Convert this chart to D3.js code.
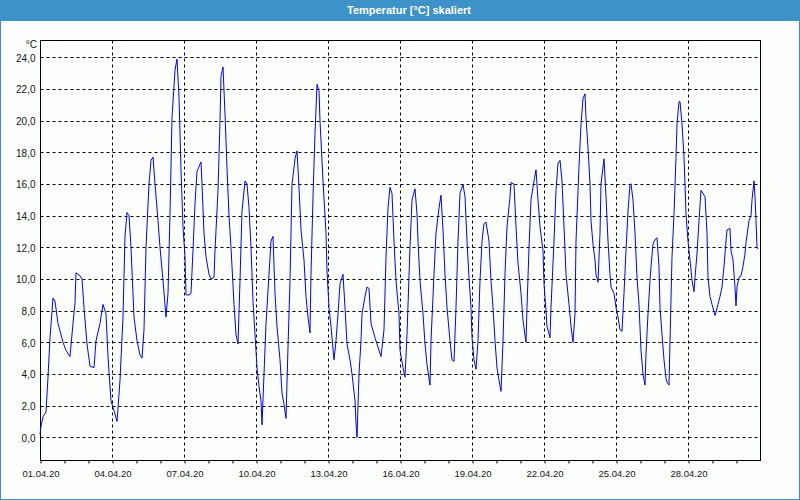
<!DOCTYPE html>
<html>
<head>
<meta charset="utf-8">
<script src="https://cdn.jsdelivr.net/npm/d3@7"></script>
<style>
  body { margin: 0; background: #fcfefc; }
  svg { display: block; }
  .tick text { font-family: "Liberation Sans", Arial, sans-serif; font-size: 10px; fill: #141414; }
  .x-axis .tick text { font-size: 9.5px; }
</style>
</head>
<body>
<svg id="chart" width="800" height="500"></svg>
<script>
/* global d3 */
(function () {
  'use strict';

  // hours since 01.04.20 00:00 and the temperature read at that hour
  var hours = [0, 1, 3, 6, 8, 10, 13, 15, 18, 23, 26, 30, 33, 35, 36, 40, 42, 44, 47, 50, 54, 56, 60, 63, 66, 68, 71, 74, 77, 80,
    83, 85, 87, 89, 91, 94, 97, 100, 102, 104, 106, 109, 111, 113, 115, 118, 120, 123, 126, 128, 130, 132, 135, 137, 139, 141, 143, 145, 146, 149,
    151, 153, 155, 157, 161, 162, 164, 166, 169, 171, 174, 175, 178, 180, 181, 183, 185, 187, 189, 191, 194, 196, 198, 200, 202, 205, 207, 209, 211, 213,
    215, 217, 219, 221, 222, 224, 226, 229, 231, 233, 235, 237, 240, 242, 244, 246, 248, 250, 252, 255, 257, 259, 261, 264, 266, 268, 270, 271, 273, 275,
    277, 279, 280, 283, 286, 287, 289, 291, 294, 296, 298, 300, 303, 305, 307, 310, 312, 315, 316, 317, 319, 321, 322, 325, 327, 329, 331, 335, 338, 341,
    344, 346, 348, 350, 352, 354, 356, 359, 360, 363, 365, 367, 370, 372, 375, 377, 378, 380, 383, 385, 387, 390, 391, 394, 396, 399, 401, 403, 405, 407,
    410, 412, 414, 416, 418, 420, 423, 425, 427, 429, 431, 432, 434, 436, 438, 440, 442, 444, 446, 449, 451, 453, 455, 457, 459, 461, 463, 465, 467, 470,
    471, 474, 476, 478, 481, 483, 486, 487, 489, 491, 494, 496, 498, 500, 503, 504, 506, 507, 510, 511, 514, 516, 518, 520, 522, 524, 526, 529, 531, 533,
    535, 536, 539, 541, 543, 545, 546, 548, 550, 551, 553, 555, 556, 558, 560, 561, 564, 566, 568, 570, 571, 574, 576, 578, 580, 582, 584, 586, 588, 590,
    591, 593, 595, 597, 599, 601, 603, 605, 606, 608, 610, 611, 613, 615, 617, 619, 620, 622, 624, 626, 627, 629, 630, 632, 634, 636, 637, 639, 640, 642,
    644, 645, 646, 648, 650, 652, 654, 655, 657, 659, 661, 663, 665, 667, 668, 670, 672, 675, 676, 678, 680, 682, 684, 686, 687, 690, 691, 693, 695, 696,
    697, 699, 701, 703, 705, 706, 709, 711, 712, 714, 715, 716, 717, 718];

  var temps = [0.2, 0.7, 1.3, 1.6, 3.8, 6.3, 8.8, 8.6, 7.2, 6.0, 5.5, 5.1, 7.2, 8.5, 10.4, 10.2, 10.0, 8.2, 5.9, 4.5, 4.4, 6.1, 7.2, 8.4, 7.8, 5.1, 2.3, 1.7, 1.0, 3.6,
    7.6, 12.7, 14.2, 14.0, 12.0, 7.6, 6.1, 5.2, 5.0, 6.8, 12.0, 16.0, 17.5, 17.7, 16.0, 13.7, 12.0, 9.9, 7.6, 9.1, 14.1, 20.2, 23.2, 23.9, 21.5, 16.9, 13.3, 11.4, 9.0, 9.0,
    9.1, 11.8, 14.8, 16.8, 17.4, 16.0, 12.9, 11.4, 10.3, 10.0, 10.1, 11.8, 15.6, 20.0, 22.8, 23.4, 20.4, 17.0, 14.0, 12.0, 8.4, 6.5, 5.9, 9.9, 14.3, 16.2, 16.0, 14.5, 12.0, 8.6,
    6.5, 4.4, 3.2, 2.3, 0.8, 4.0, 7.2, 10.3, 12.4, 12.7, 9.1, 7.0, 4.9, 2.8, 2.1, 1.2, 5.7, 9.9, 16.0, 17.6, 18.1, 15.8, 13.1, 11.2, 8.9, 7.6, 6.6, 10.3, 15.2, 19.2,
    22.3, 21.9, 20.0, 16.2, 12.9, 10.5, 8.2, 7.0, 4.9, 6.1, 7.8, 9.7, 10.3, 8.2, 5.9, 4.9, 4.0, 2.3, 0.9, 0.0, 4.0, 6.1, 7.8, 8.9, 9.5, 9.4, 7.2, 6.3, 5.7, 5.1,
    6.8, 11.4, 14.5, 15.8, 15.4, 12.4, 9.9, 7.8, 5.5, 4.4, 3.8, 6.5, 12.0, 15.0, 15.7, 14.1, 12.4, 9.9, 7.8, 5.9, 4.6, 3.3, 6.1, 10.3, 12.9, 14.5, 15.3, 13.1, 10.3, 8.2,
    6.1, 4.9, 4.8, 8.2, 12.4, 15.4, 16.0, 15.2, 12.4, 10.1, 8.2, 6.3, 4.9, 4.3, 6.1, 9.9, 12.4, 13.5, 13.6, 12.4, 9.9, 8.2, 6.1, 4.4, 3.6, 2.9, 6.1, 10.3, 13.3, 15.2,
    16.1, 16.0, 13.3, 11.0, 9.1, 7.4, 6.0, 8.2, 12.0, 15.0, 16.2, 16.9, 15.0, 13.3, 11.8, 9.7, 8.0, 7.0, 6.3, 8.2, 12.4, 15.6, 17.3, 17.5, 16.2, 13.3, 10.3, 8.4, 7.0, 6.0,
    7.8, 12.4, 17.1, 19.8, 21.4, 21.7, 20.2, 18.3, 16.0, 13.7, 12.2, 11.2, 10.3, 9.8, 12.9, 16.0, 17.6, 15.2, 12.4, 10.3, 9.5, 9.1, 8.2, 7.6, 6.8, 6.7, 9.1, 11.8, 14.3, 16.0,
    16.0, 15.0, 12.9, 10.1, 8.4, 5.5, 4.0, 3.3, 5.3, 7.8, 9.9, 10.8, 12.2, 12.5, 12.6, 10.8, 8.2, 6.5, 4.9, 3.7, 3.5, 3.3, 6.1, 11.4, 14.1, 17.7, 19.8, 21.2, 21.2, 19.8,
    17.7, 16.0, 14.1, 12.4, 11.2, 9.9, 9.2, 10.1, 11.6, 13.7, 15.6, 15.4, 15.2, 12.9, 10.1, 8.9, 8.4, 7.7, 7.9, 8.4, 8.9, 9.5, 10.8, 12.4, 13.1, 13.2, 11.8, 11.2, 9.5, 8.3,
    9.5, 10.1, 10.2, 10.8, 11.6, 12.3, 13.7, 14.0, 15.0, 16.2, 15.2, 13.7, 12.0, 11.9];

  var yTicks = [0, 2, 4, 6, 8, 10, 12, 14, 16, 18, 20, 22, 24];
  var labelDays = [1, 4, 7, 10, 13, 16, 19, 22, 25, 28];
  var title = 'Temperatur [°C] skaliert';
  var unit = '°C';

  var start = new Date(2020, 3, 1);
  var end = new Date(2020, 4, 1);
  var data = hours.map(function (h, i) {
    return { t: d3.timeHour.offset(start, h), v: temps[i] };
  });

  var margin = { top: 40, right: 40, bottom: 40, left: 40 };
  var W = 800, H = 500;
  var svg = d3.select('#chart');

  // window frame + title bar
  svg.append('rect').attr('x', 0.5).attr('y', 0.5).attr('width', W - 1).attr('height', H - 1)
    .attr('fill', '#fcfefc').attr('stroke', '#3f8fc4');
  svg.append('rect').attr('x', 0).attr('y', 0).attr('width', W).attr('height', 21).attr('fill', '#3d92c7');
  svg.append('text').attr('x', 409).attr('y', 14).attr('text-anchor', 'middle')
    .style('font-family', '"Liberation Sans", Arial, sans-serif').style('font-size', '11px')
    .style('font-weight', 'bold').attr('fill', '#ffffff').text(title);

  var x = d3.scaleTime().domain([start, end]).range([margin.left, W - margin.right]);
  var y = d3.scaleLinear().domain([-1.43, 25.1]).range([H - margin.bottom, margin.top]);

  var g = svg.append('g').attr('transform', 'translate(0.5,0.5)');

  // grid
  g.selectAll('.hgrid').data(yTicks).enter().append('line')
    .attr('class', 'hgrid')
    .attr('x1', margin.left).attr('x2', W - margin.right)
    .attr('y1', function (d) { return Math.round(y(d)); })
    .attr('y2', function (d) { return Math.round(y(d)); })
    .attr('stroke', '#000').attr('stroke-dasharray', '3,3');

  g.selectAll('.vgrid').data(labelDays.slice(1)).enter().append('line')
    .attr('class', 'vgrid')
    .attr('x1', function (d) { return Math.round(x(new Date(2020, 3, d))); })
    .attr('x2', function (d) { return Math.round(x(new Date(2020, 3, d))); })
    .attr('y1', margin.top).attr('y2', H - margin.bottom)
    .attr('stroke', '#000').attr('stroke-dasharray', '3,3');

  // axes
  var xAxis = d3.axisBottom(x)
    .tickValues(d3.timeDay.range(start, end))
    .tickSize(3)
    .tickPadding(7)
    .tickFormat(function (d) {
      return labelDays.indexOf(d.getDate()) >= 0 ? d3.timeFormat('%d.%m.%y')(d) : '';
    });
  var gx = g.append('g').attr('class', 'x-axis')
    .attr('transform', 'translate(0,' + (H - margin.bottom) + ')').call(xAxis);
  gx.select('.domain').remove();
  gx.selectAll('.tick line').attr('stroke', '#000');

  var yAxis = d3.axisLeft(y)
    .tickValues(yTicks)
    .tickSize(0)
    .tickPadding(4)
    .tickFormat(function (d) { return d3.format('.1f')(d).replace('.', ','); });
  var gy = g.append('g').attr('transform', 'translate(' + (margin.left - 1) + ',0)').call(yAxis);
  gy.select('.domain').remove();

  svg.append('text').attr('x', 37).attr('y', 48).attr('text-anchor', 'end')
    .style('font-family', '"Liberation Sans", Arial, sans-serif').style('font-size', '10px')
    .attr('fill', '#141414').text(unit);

  // plot frame
  g.append('rect').attr('x', margin.left).attr('y', margin.top)
    .attr('width', W - margin.left - margin.right).attr('height', H - margin.top - margin.bottom)
    .attr('fill', 'none').attr('stroke', '#000');

  // temperature line
  var line = d3.line()
    .x(function (d) { return x(d.t); })
    .y(function (d) { return y(d.v); });

  svg.append('path').datum(data)
    .attr('d', line)
    .attr('fill', 'none')
    .attr('stroke', '#0000ff')
    .attr('stroke-width', 1);
}());
</script>
</body>
</html>
